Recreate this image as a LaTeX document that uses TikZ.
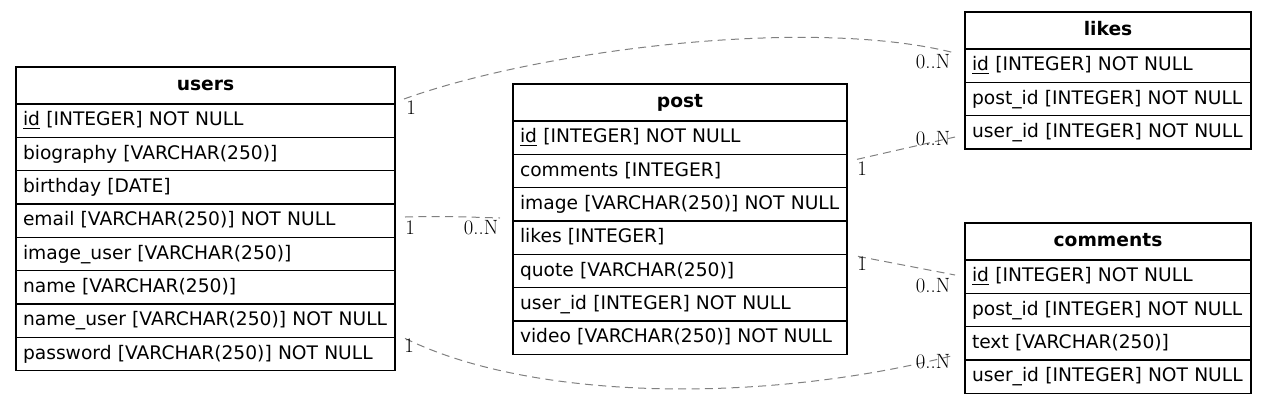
\documentclass[tikz,border=0pt]{standalone}
\usepackage{fontspec}
\newfontfamily\tabfont{DejaVu Sans}
\usetikzlibrary{calc}
\newcommand\pkey[1]{\underline{#1}}
\begin{document}
\begin{tikzpicture}[x=0.75pt,y=-0.75pt,
  tbl/.style={draw=black, line width=0.8pt, anchor=north west, inner xsep=5.25pt,
    inner ysep=0pt, outer sep=0pt, font=\tabfont\fontsize{14}{16}\selectfont},
  hdr/.style={tbl, minimum height=27.75pt, text height=10.5pt, text depth=3pt, align=center},
  cell/.style={tbl, minimum height=25pt, text height=10.5pt, text depth=3pt, align=left},
  wu/.style={text width=273.75pt},
  wp/.style={text width=240pt},
  wl/.style={text width=204pt},
  rel/.style={draw=black!50, dash pattern=on 6pt off 4pt, line width=0.75pt},
  lbl/.style={inner sep=0pt, font=\fontsize{15.5}{17}\selectfont}]
\useasboundingbox (0,0) rectangle (1267,405);
% users
\node[hdr,wu] (users) at (16,67) {\textbf{users}};
\node[cell,wu] (users-id) at (users.south west) {\pkey{id} [INTEGER] NOT NULL};
\node[cell,wu] (users-bio) at (users-id.south west) {biography [VARCHAR(250)]};
\node[cell,wu] (users-birth) at (users-bio.south west) {birthday [DATE]};
\node[cell,wu] (users-email) at (users-birth.south west) {email [VARCHAR(250)] NOT NULL};
\node[cell,wu] (users-img) at (users-email.south west) {image\_user [VARCHAR(250)]};
\node[cell,wu] (users-name) at (users-img.south west) {name [VARCHAR(250)]};
\node[cell,wu] (users-nameuser) at (users-name.south west) {name\_user [VARCHAR(250)] NOT NULL};
\node[cell,wu] (users-pw) at (users-nameuser.south west) {password [VARCHAR(250)] NOT NULL};
% post
\node[hdr,wp] (post) at (513,84) {\textbf{post}};
\node[cell,wp] (post-id) at (post.south west) {\pkey{id} [INTEGER] NOT NULL};
\node[cell,wp] (post-comments) at (post-id.south west) {comments [INTEGER]};
\node[cell,wp] (post-image) at (post-comments.south west) {image [VARCHAR(250)] NOT NULL};
\node[cell,wp] (post-likes) at (post-image.south west) {likes [INTEGER]};
\node[cell,wp] (post-quote) at (post-likes.south west) {quote [VARCHAR(250)]};
\node[cell,wp] (post-userid) at (post-quote.south west) {user\_id [INTEGER] NOT NULL};
\node[cell,wp] (post-video) at (post-userid.south west) {video [VARCHAR(250)] NOT NULL};
% likes
\node[hdr,wl] (likes) at (965,12) {\textbf{likes}};
\node[cell,wl] (likes-id) at (likes.south west) {\pkey{id} [INTEGER] NOT NULL};
\node[cell,wl] (likes-postid) at (likes-id.south west) {post\_id [INTEGER] NOT NULL};
\node[cell,wl] (likes-userid) at (likes-postid.south west) {user\_id [INTEGER] NOT NULL};
% comments
\node[hdr,wl] (comments) at (965,223) {\textbf{comments}};
\node[cell,wl] (comments-id) at (comments.south west) {\pkey{id} [INTEGER] NOT NULL};
\node[cell,wl] (comments-postid) at (comments-id.south west) {post\_id [INTEGER] NOT NULL};
\node[cell,wl] (comments-text) at (comments-postid.south west) {text [VARCHAR(250)]};
\node[cell,wl] (comments-userid) at (comments-text.south west) {user\_id [INTEGER] NOT NULL};
% connectors
\draw[rel] ([shift={(9,-5)}]users-id.north east) .. controls (540,50) and (810,16) .. ([shift={(-10,4)}]likes-id.north west);
\draw[rel] ([shift={(10,5)}]post-comments.north east) -- ([shift={(-10,-12)}]likes-userid.south west);
\draw[rel] ([shift={(10,13)}]users-email.north east) .. controls (440,216) and (470,217) .. ([shift={(-13,-3)}]post-likes.north west);
\draw[rel] ([shift={(11,2)}]post-quote.north east) -- ([shift={(-10,15)}]comments-id.north west);
\draw[rel] ([shift={(10,1)}]users-pw.north east) .. controls (530,400) and (760,405) .. ([shift={(-10,-5)}]comments-userid.north west);
% labels
\node[lbl] (m1a) at (411,108) {1};
\node[lbl] (m1b) at (933,62) {0..N};
\node[lbl] (m2a) at (862,169) {1};
\node[lbl] (m2b) at (933,139) {0..N};
\node[lbl] (m3a) at (410,228) {1};
\node[lbl] (m3b) at (481,228) {0..N};
\node[lbl] (m4a) at (862,264) {1};
\node[lbl] (m4b) at (933,286) {0..N};
\node[lbl] (m5a) at (409,346) {1};
\node[lbl] (m5b) at (933,362) {0..N};
\end{tikzpicture}
\end{document}
